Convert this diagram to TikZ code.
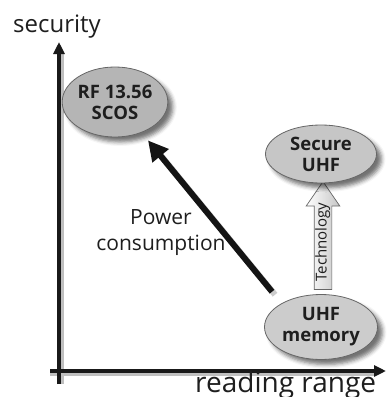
\documentclass[tikz,border=0pt]{standalone}
\usepackage{fontspec}
\setmainfont{Open Sans}
\usetikzlibrary{shapes.geometric,shapes.arrows,arrows.meta,shadows.blur}
\definecolor{txt}{HTML}{1E1E1E}
\definecolor{edge}{HTML}{666666}
\tikzset{
  bubble/.style={ellipse, draw=edge, line width=0.8pt, text=txt, align=center,
    font=\fontsize{18.5}{21}\selectfont\bfseries, inner sep=0pt,
    blur shadow={shadow xshift=5pt, shadow yshift=-5pt, shadow blur radius=4pt, shadow opacity=55}},
  axisline/.style={line width=4pt, draw=black!90, -{Triangle[length=12pt,width=11pt]}},
  axislabel/.style={text=txt, inner sep=0pt},
  powerarrow/.style={line width=6pt, draw=black!92, -{Triangle[length=20pt,width=20pt]}},
  techarrow/.style={single arrow, draw=edge, line width=0.7pt,
    left color=white, right color=gray!45, text=txt,
    font=\fontsize{15}{15}\selectfont, text height=11pt, text depth=4pt,
    inner xsep=0pt, inner ysep=1pt, single arrow head extend=8pt,
    single arrow tip angle=69, minimum height=108pt}
}
\begin{document}
\begin{tikzpicture}[x=1pt,y=-1pt]
\useasboundingbox (0,0) rectangle (387,397);
% axes
\coordinate (origin) at (59,371);
\coordinate (ybot) at (59,384);
\coordinate (ytop) at (59,42);
\coordinate (xleft) at (50,371);
\coordinate (xright) at (386,371);
\draw[line width=4pt, black!25] (61.5,384) -- (61.5,52);
\draw[line width=4pt, black!25] (50,373.5) -- (374,373.5);
\draw[axisline] (ybot) -- (ytop);
\draw[axisline] (xleft) -- (xright);
\node[axislabel, font=\fontsize{24}{24}\selectfont] (ylab) at (57,27) {security};
\node[axislabel, font=\fontsize{28}{28}\selectfont, anchor=base west] (xlab) at (195,392) {reading range};
% technology arrow
\node[techarrow, rotate=90] (tech) at (323,242) {Technology};
% bubbles
\node[bubble, fill=gray!58, minimum width=104pt, minimum height=70pt] (rf) at (115,102) {RF 13.56\\SCOS};
\node[bubble, fill=gray!45, minimum width=111pt, minimum height=58pt] (suhf) at (321,154) {Secure\\UHF};
\node[bubble, fill=gray!40, minimum width=113pt, minimum height=65pt] (uhfm) at (321,327) {UHF\\memory};
% power arrow
\draw[line width=6pt, black!20, shorten <=15pt, shorten >=22pt, transform canvas={xshift=3pt,yshift=-3pt}] (uhfm.149) -- (rf.-49);
\draw[powerarrow, shorten <=15pt, shorten >=10pt] (uhfm.149) -- (rf.-49);
\node[axislabel, font=\fontsize{21}{26}\selectfont, align=center] (pc) at (161,233) {Power\\consumption};
\end{tikzpicture}
\end{document}
